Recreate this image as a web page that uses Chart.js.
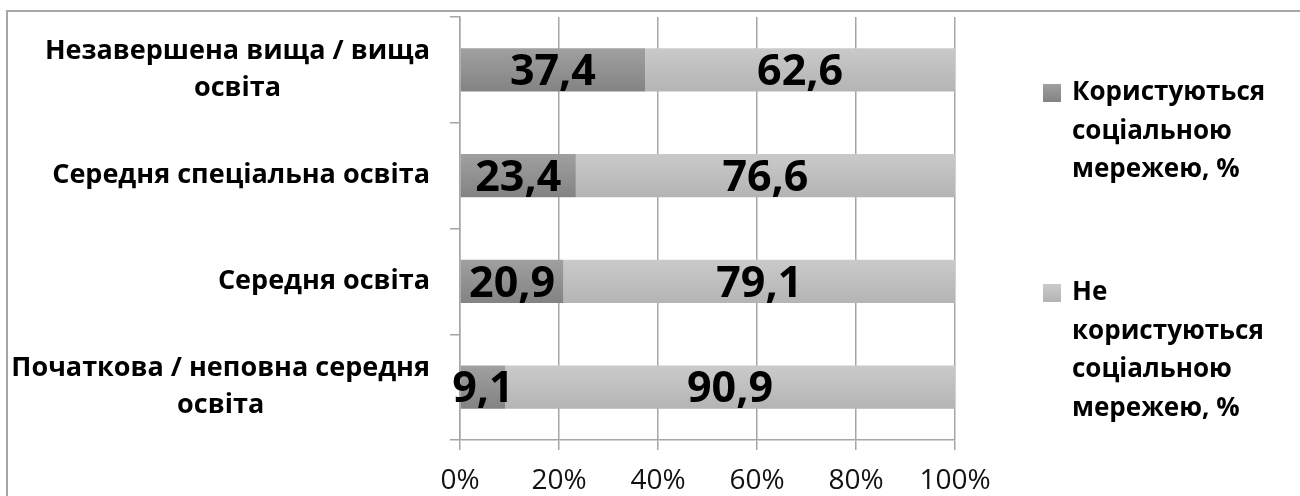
<!DOCTYPE html>
<html>
<head>
<meta charset="utf-8">
<script src="https://cdn.jsdelivr.net/npm/chart.js@4"></script>
<style>
    html, body { margin: 0; padding: 0; background: #fff; }
    #wrap { position: relative; width: 1300px; height: 496px; overflow: hidden; }
    #frame { position: absolute; left: 6px; top: 10px; width: 1400px; height: 600px; border: 2px solid #a6a6a6; box-sizing: border-box; }
    canvas { position: absolute; left: 0; top: 0; }
</style>
</head>
<body>
<div id="wrap">
    <div id="frame"></div>
    <canvas id="eduChart" width="1300" height="496"></canvas>
</div>
<script>
// Categories (top to bottom)
const categories = [
    ['Незавершена вища / вища', 'освіта'],
    ['Середня спеціальна освіта'],
    ['Середня освіта'],
    ['Початкова / неповна середня', 'освіта']
];

const seriesNames = [
    'Користуються соціальною мережею, %',
    'Не користуються соціальною мережею, %'
];

const usersValues = [37.4, 23.4, 20.9, 9.1];
const nonUsersValues = [62.6, 76.6, 79.1, 90.9];

const xTicks = [0, 20, 40, 60, 80, 100];

const FONT = '"Open Sans", "DejaVu Sans", sans-serif';
const GRID = '#a6a6a6';
const BAR_PCT = 0.41;

/**
 * Vertical gradient for one bar
 */
function barGradient(ctx, top, bottom) {
    const chart = ctx.chart;
    const y = chart.scales.y;
    if (!y || !chart.chartArea || ctx.dataIndex === undefined) return top;
    const c = y.getPixelForValue(ctx.dataIndex);
    const half = (y.height / categories.length) * BAR_PCT / 2;
    const g = chart.ctx.createLinearGradient(0, c - half, 0, c + half);
    g.addColorStop(0, top);
    g.addColorStop(1, bottom);
    return g;
}

// Category labels: each block right-aligned, lines centered inside the block
const categoryLabels = {
    id: 'categoryLabels',
    afterDraw(chart) {
        const { ctx, scales: { y } } = chart;
        const lineH = 37;
        const rightEdge = 430;
        ctx.save();
        ctx.font = 'bold 27px ' + FONT;
        ctx.fillStyle = '#000';
        ctx.textAlign = 'center';
        ctx.textBaseline = 'middle';
        categories.forEach((lines, i) => {
            const widest = Math.max(...lines.map(l => ctx.measureText(l).width));
            const cx = rightEdge - widest / 2;
            const cy = y.getPixelForValue(i);
            lines.forEach((line, k) => {
                ctx.fillText(line, cx, cy + (k - (lines.length - 1) / 2) * lineH);
            });
        });
        ctx.restore();
    }
};

// Value labels in the middle of each segment
const valueLabels = {
    id: 'valueLabels',
    afterDatasetsDraw(chart) {
        const { ctx } = chart;
        const size = 43;
        ctx.save();
        ctx.font = 'bold ' + size + 'px ' + FONT;
        ctx.fillStyle = '#000';
        ctx.textAlign = 'center';
        ctx.textBaseline = 'alphabetic';
        chart.data.datasets.forEach((ds, di) => {
            chart.getDatasetMeta(di).data.forEach((bar, i) => {
                const txt = ds.data[i].toFixed(1).replace('.', ',');
                ctx.fillText(txt, (bar.x + bar.base) / 2, bar.y + size * 0.357);
            });
        });
        ctx.restore();
    }
};

// Legend on the right with wrapped text
const sideLegend = {
    id: 'sideLegend',
    afterDraw(chart) {
        const { ctx } = chart;
        const boxX = 1043, textX = 1072, maxW = 210, lineH = 38.5;
        const firstLineY = [93, 293];
        ctx.save();
        ctx.font = 'bold 26px ' + FONT;
        ctx.textAlign = 'left';
        ctx.textBaseline = 'middle';
        chart.data.datasets.forEach((ds, di) => {
            const words = ds.label.split(' ');
            const lines = [];
            let cur = '';
            words.forEach(w => {
                const test = cur ? cur + ' ' + w : w;
                if (cur && ctx.measureText(test).width > maxW) {
                    lines.push(cur);
                    cur = w;
                } else {
                    cur = test;
                }
            });
            if (cur) lines.push(cur);

            const y0 = firstLineY[di];
            const g = ctx.createLinearGradient(0, y0 - 9, 0, y0 + 9);
            g.addColorStop(0, ds.gradTop);
            g.addColorStop(1, ds.gradBottom);
            ctx.fillStyle = g;
            ctx.fillRect(boxX, y0 - 9, 18, 18);

            ctx.fillStyle = '#000';
            lines.forEach((line, k) => ctx.fillText(line, textX, y0 + k * lineH));
        });
        ctx.restore();
    }
};

new Chart(document.getElementById('eduChart'), {
    type: 'bar',
    data: {
        labels: categories.map(c => c.join(' ')),
        datasets: [
            {
                label: seriesNames[0],
                data: usersValues,
                gradTop: '#a0a0a0',
                gradBottom: '#838383',
                backgroundColor: ctx => barGradient(ctx, '#a0a0a0', '#838383'),
                borderWidth: 0,
                categoryPercentage: 1,
                barPercentage: BAR_PCT
            },
            {
                label: seriesNames[1],
                data: nonUsersValues,
                gradTop: '#cacaca',
                gradBottom: '#b4b4b4',
                backgroundColor: ctx => barGradient(ctx, '#cacaca', '#b4b4b4'),
                borderWidth: 0,
                categoryPercentage: 1,
                barPercentage: BAR_PCT
            }
        ]
    },
    options: {
        indexAxis: 'y',
        responsive: false,
        animation: false,
        layout: {
            padding: { top: 17, right: 345, left: 0, bottom: 0 }
        },
        plugins: {
            legend: { display: false },
            tooltip: { enabled: false }
        },
        scales: {
            x: {
                stacked: true,
                min: 0,
                max: 100,
                afterBuildTicks: scale => {
                    scale.ticks = xTicks.map(v => ({ value: v }));
                },
                afterFit: scale => { scale.height = 56; },
                grid: {
                    color: GRID,
                    lineWidth: 1.5,
                    tickLength: 10
                },
                border: { color: GRID, width: 1.5 },
                ticks: {
                    padding: 14,
                    color: '#111',
                    font: { family: FONT, size: 28 },
                    maxRotation: 0,
                    callback: v => v + '%'
                }
            },
            y: {
                stacked: true,
                afterFit: scale => { scale.width = 460; },
                grid: {
                    offset: true,
                    drawOnChartArea: false,
                    color: GRID,
                    lineWidth: 1.5,
                    tickLength: 10
                },
                border: { color: GRID, width: 1.5 },
                ticks: { display: false }
            }
        }
    },
    plugins: [categoryLabels, valueLabels, sideLegend]
});
</script>
</body>
</html>
